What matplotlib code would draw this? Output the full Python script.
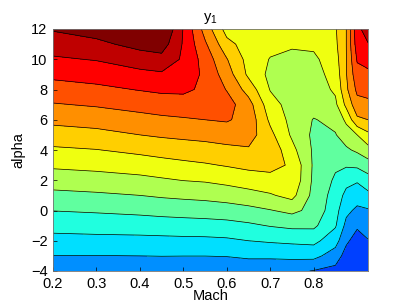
import numpy as np
import matplotlib
matplotlib.use("Agg")
import matplotlib.pyplot as plt

plt.rcParams['font.family'] = ['Liberation Sans', 'DejaVu Sans']

# Grid (Mach columns, alpha rows) and band-level values of y1
mach = [0.2, 0.3, 0.4, 0.45, 0.5, 0.55, 0.6, 0.65, 0.7, 0.75, 0.8, 0.85, 0.875, 0.9, 0.925]
alpha = [-4, -3, -2, -1, 0, 1, 2, 3, 4, 5, 6, 7, 8, 9, 10, 11, 12]

y1_am4 = [0.79, 0.76, 0.75, 0.74, 0.74, 0.74, 0.74, 0.76, 0.76, 0.72, 0.45, 0.2, -0.2, -0.6, -0.4]
y1_am3 = [1.48, 1.48, 1.5, 1.52, 1.51, 1.51, 1.54, 1.68, 1.68, 1.74, 1.8, 1.0, 0.11, -0.3, 0.0]
y1_am2 = [2.16, 2.2, 2.22, 2.24, 2.27, 2.28, 2.34, 2.5, 2.61, 2.7, 2.77, 1.9, 0.67, 0.1, 0.45]
y1_am1 = [2.84, 2.91, 2.97, 3.03, 3.07, 3.11, 3.17, 3.33, 3.55, 3.71, 3.7, 2.6, 1.22, 0.63, 0.95]
y1_a0 = [3.52, 3.61, 3.73, 3.82, 3.89, 3.95, 4.05, 4.21, 4.45, 4.74, 4.2, 2.85, 1.74, 1.3, 1.4]
y1_a1 = [4.24, 4.35, 4.5, 4.62, 4.71, 4.79, 4.93, 5.14, 5.4, 5.8, 4.2, 3.1, 2.21, 1.94, 2.25]
y1_a2 = [4.96, 5.08, 5.24, 5.38, 5.52, 5.6, 5.78, 6.0, 6.14, 6.3, 4.3, 3.35, 2.82, 2.61, 3.08]
y1_a3 = [5.67, 5.79, 5.98, 6.13, 6.27, 6.4, 6.57, 6.75, 6.83, 6.35, 4.35, 3.65, 3.61, 3.7, 4.06]
y1_a4 = [6.34, 6.47, 6.73, 6.88, 7.01, 7.12, 7.26, 7.38, 7.2, 5.8, 4.35, 4.1, 4.35, 4.67, 5.13]
y1_a5 = [7.05, 7.2, 7.5, 7.63, 7.72, 7.8, 7.93, 7.95, 6.77, 5.35, 4.3, 4.45, 4.98, 5.5, 6.26]
y1_a6 = [7.75, 7.91, 8.17, 8.3, 8.4, 8.5, 8.6, 8.15, 6.3, 5.2, 4.45, 4.75, 5.72, 7.3, 7.5]
y1_a7 = [8.43, 8.6, 8.85, 8.99, 9.05, 9.0, 8.9, 7.9, 5.9, 5.1, 4.9, 5.3, 6.75, 8.14, 8.27]
y1_a8 = [9.08, 9.27, 9.55, 9.68, 9.7, 9.3, 8.45, 7.1, 5.45, 5.05, 5.0, 5.65, 7.3, 8.72, 8.83]
y1_a9 = [9.73, 9.92, 10.24, 10.36, 10.1, 9.3, 8.0, 6.3, 5.25, 5.1, 5.1, 5.9, 7.45, 9.15, 9.29]
y1_a10 = [10.37, 10.56, 11.0, 11.17, 10.35, 9.1, 7.55, 6.15, 5.45, 5.2, 5.3, 6.1, 7.48, 9.6, 9.85]
y1_a11 = [10.98, 11.26, 11.83, 12.0, 10.4, 8.65, 6.81, 6.05, 5.8, 5.65, 5.7, 6.3, 7.5, 10.0, 10.44]
y1_a12 = [11.59, 11.93, 12.5, 12.7, 10.45, 8.1, 6.1, 6.0, 6.0, 6.0, 6.05, 6.4, 7.5, 10.2, 11.03]

Z = np.array([y1_am4, y1_am3, y1_am2, y1_am1, y1_a0, y1_a1, y1_a2, y1_a3, y1_a4,
              y1_a5, y1_a6, y1_a7, y1_a8, y1_a9, y1_a10, y1_a11, y1_a12])

xticks = [0.2, 0.3, 0.4, 0.5, 0.6, 0.7, 0.8]
yticks = [-4, -2, 0, 2, 4, 6, 8, 10, 12]

inner = [k + 0.5 for k in range(12)]
levels = [-10] + inner + [30]

# entries of a 64-step MATLAB-style jet colormap used for the 13 bands
band_index = [12, 17, 22, 26, 30, 35, 39, 43, 47, 51, 56, 60, 64]


def jet64_matlab(i):
    if i <= 8:
        return (0.0, 0.0, (8 + i) / 16.0)
    if i <= 24:
        return (0.0, (i - 8) / 16.0, 1.0)
    if i <= 40:
        return ((i - 24) / 16.0, 1.0, 1.0 - (i - 24) / 16.0)
    if i <= 56:
        return (1.0, 1.0 - (i - 40) / 16.0, 0.0)
    return (1.0 - (i - 56) / 16.0, 0.0, 0.0)


band_colors = [jet64_matlab(i) for i in band_index]

fig = plt.figure(figsize=(4.07, 3.06), dpi=100)
ax = fig.add_axes([53 / 407, 1 - 271 / 306, 315 / 407, 242 / 306])
ax.contourf(mach, alpha, Z, levels=levels, colors=band_colors)
ax.contour(mach, alpha, Z, levels=inner, colors='k', linewidths=0.5)

ax.set_xlim(0.2, 0.925)
ax.set_ylim(-4, 12)
ax.set_xticks(xticks)
ax.set_xticklabels([f"{v:.1f}" for v in xticks])
ax.set_yticks(yticks)
ax.tick_params(direction='in', length=3, width=0.5, labelsize=10.5)
ax.tick_params(axis='x', pad=4)
ax.tick_params(axis='y', pad=4)
for s in ax.spines.values():
    s.set_linewidth(0.6)
    s.set_color('0.45')

ax.set_xlabel('Mach', fontsize=10.5, labelpad=-1)
ax.set_ylabel('alpha', fontsize=10.5, labelpad=4)
ax.set_title('y$\\mathregular{_1}$', fontsize=10.5, pad=6)

fig.savefig('out.png', dpi=100)
